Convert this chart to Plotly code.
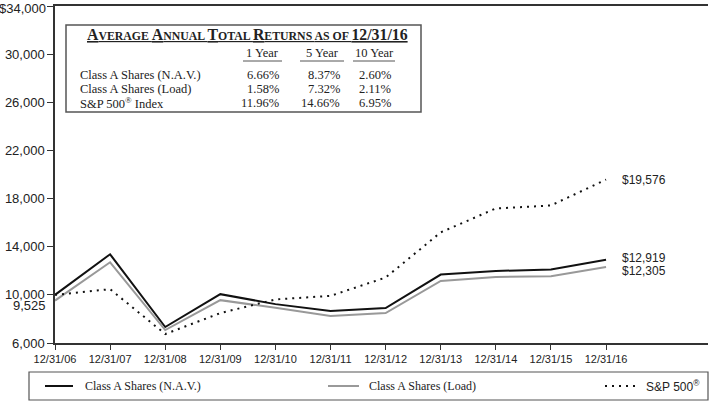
import plotly.graph_objects as go

# ---------------- data ----------------
dates = ["12/31/06", "12/31/07", "12/31/08", "12/31/09", "12/31/10", "12/31/11",
         "12/31/12", "12/31/13", "12/31/14", "12/31/15", "12/31/16"]
nav = [10000, 13371, 7325, 10058, 9230, 8650, 8899, 11688, 11988, 12100, 12919]
load = [9525, 12708, 7077, 9560, 8923, 8236, 8484, 11160, 11491, 11549, 12305]
sp500 = [10000, 10472, 6745, 8484, 9619, 9917, 11440, 15193, 17180, 17428, 19576]

series_names = ["Class A Shares (N.A.V.)", "Class A Shares (Load)", "S&P 500<sup>®</sup>"]
end_labels = ["$12,919", "$12,305", "$19,576"]

ytick_vals = [6000, 10000, 14000, 18000, 22000, 26000, 30000, 34000]
ytick_text = ["6,000", "10,000", "14,000", "18,000", "22,000", "26,000", "30,000", ""]
top_tick_val = 34000
top_tick_text = "$34,000"
extra_tick_val = 9525
extra_tick_text = "9,525"

table_cols = ["1 Year", "5 Year", "10 Year"]
table_rows = ["Class A Shares (N.A.V.)", "Class A Shares (Load)", "S&amp;P 500<sup>®</sup> Index"]
table_vals = [["6.66%", "8.37%", "2.60%"],
              ["1.58%", "7.32%", "2.11%"],
              ["11.96%", "14.66%", "6.95%"]]

# ---------------- layout helpers ----------------
W, H = 710, 401
ML, MR, MT, MB = 55, 2, 6, 58
PW, PH = W - ML - MR, H - MT - MB


def px(x):
    return (x - ML) / PW


def py(y):
    return (H - MB - y) / PH


SANS_N = "Liberation Sans Narrow, Arial Narrow, Liberation Sans, Arial, sans-serif"
SERIF = "Liberation Serif, Times New Roman, serif"
TXT = "#222222"

fig = go.Figure()
styles = [dict(color="#111111", width=2),
          dict(color="#999999", width=2),
          dict(color="#111111", width=2, dash="2px,5px")]
for name, vals, st in zip(series_names, [nav, load, sp500], styles):
    fig.add_trace(go.Scatter(x=dates, y=vals, mode="lines", name=name,
                             line=st, showlegend=False, hoverinfo="skip"))

annotations = []
shapes = []

# end labels
shifts = [2, -4, 0]
for vals, lab, sh in zip([nav, load, sp500], end_labels, shifts):
    annotations.append(dict(x=dates[-1], y=vals[-1], xref="x", yref="y", text=lab,
                            showarrow=False, xanchor="left", yanchor="middle",
                            xshift=14, yshift=sh,
                            font=dict(family=SANS_N, size=12, color=TXT)))

# top y tick label (kept inside the page)
annotations.append(dict(x=0, y=top_tick_val, xref="paper", yref="y", text=top_tick_text,
                        showarrow=False, xanchor="right", yanchor="top", xshift=-7, yshift=7,
                        font=dict(family=SANS_N, size=13, color=TXT)))
# extra y tick label 9,525
annotations.append(dict(x=0, y=extra_tick_val, xref="paper", yref="y", text=extra_tick_text,
                        showarrow=False, xanchor="right", yanchor="middle", xshift=-7, yshift=-5,
                        font=dict(family=SANS_N, size=13, color=TXT)))

# ---------- table box ----------
shapes.append(dict(type="rect", xref="paper", yref="paper",
                   x0=px(66), x1=px(421), y0=py(112), y1=py(25),
                   line=dict(color="#555555", width=1.5), fillcolor="white", layer="above"))

BIG, SMALL = 15.8, 11.8


def sc(word, trail=" "):
    return (f"<span style='font-size:{BIG}px'>{word[0]}</span>"
            f"<span style='font-size:{SMALL}px'>{word[1:]}{trail}</span>")


title_words = ["AVERAGE", "ANNUAL", "TOTAL", "RETURNS"]
title = "".join(sc(w) for w in title_words)
title += f"<span style='font-size:{SMALL}px'>AS OF </span><span style='font-size:{BIG}px'>12/31/16</span>"
annotations.append(dict(x=px(247), y=py(35), xref="paper", yref="paper",
                        text=f"<b><u>{title}</u></b>", showarrow=False,
                        xanchor="center", yanchor="middle",
                        font=dict(family=SERIF, size=BIG, color=TXT)))

col_centers = [262, 322, 374]
col_rights = [281, 342, 393]
underline_spans = [(243, 282), (300, 344), (353, 395)]
for c, cx, (u0, u1) in zip(table_cols, col_centers, underline_spans):
    annotations.append(dict(x=px(cx), y=py(53), xref="paper", yref="paper", text=c,
                            showarrow=False, xanchor="center", yanchor="middle",
                            font=dict(family=SERIF, size=12.5, color=TXT)))
    shapes.append(dict(type="line", xref="paper", yref="paper", x0=px(u0), x1=px(u1),
                       y0=py(61), y1=py(61), line=dict(color="#555555", width=1), layer="above"))

row_ys = [75, 89, 103]
for r, ry, vals in zip(table_rows, row_ys, table_vals):
    annotations.append(dict(x=px(78), y=py(ry), xref="paper", yref="paper", text=r,
                            showarrow=False, xanchor="left", yanchor="middle",
                            font=dict(family=SERIF, size=12.5, color=TXT)))
    for v, rx in zip(vals, col_rights):
        annotations.append(dict(x=px(rx), y=py(ry), xref="paper", yref="paper", text=v,
                                showarrow=False, xanchor="right", yanchor="middle",
                                font=dict(family=SERIF, size=12.5, color=TXT)))

# ---------- legend box (bottom) ----------
shapes.append(dict(type="rect", xref="paper", yref="paper",
                   x0=px(29), x1=px(708), y0=py(400), y1=py(372),
                   line=dict(color="#555555", width=1.2)))
leg_lines = [(45, 73), (328, 359), (605, 637)]
leg_text_x = [83, 367, 644]
leg_fonts = [SERIF, SERIF, "Liberation Sans Narrow, Liberation Sans, Arial, sans-serif"]
leg_sizes = [12, 12, 12]
for (l0, l1), tx, name, st, fnt, fs in zip(leg_lines, leg_text_x, series_names, styles,
                                            leg_fonts, leg_sizes):
    shapes.append(dict(type="line", xref="paper", yref="paper", x0=px(l0), x1=px(l1),
                       y0=py(386), y1=py(386), line=st))
    annotations.append(dict(x=px(tx), y=py(386), xref="paper", yref="paper", text=name,
                            showarrow=False, xanchor="left", yanchor="middle",
                            font=dict(family=fnt, size=fs, color=TXT)))

fig.update_layout(
    width=W, height=H,
    margin=dict(l=ML, r=MR, t=MT, b=MB, autoexpand=False),
    paper_bgcolor="white", plot_bgcolor="white",
    annotations=annotations, shapes=shapes,
    xaxis=dict(type="category", range=[0, 11.85], showgrid=False, zeroline=False,
               showline=True, linecolor="#333333", linewidth=1.5, mirror=True,
               ticks="outside", ticklen=5, tickcolor="#333333", tickwidth=1,
               automargin=False,
               tickfont=dict(family=SANS_N, size=11, color=TXT)),
    yaxis=dict(range=[6000, 34000], showgrid=False, zeroline=False,
               showline=True, linecolor="#333333", linewidth=1.5,
               tickvals=ytick_vals, ticktext=ytick_text, automargin=False,
               ticks="outside", ticklen=6, tickcolor="#333333", tickwidth=1,
               tickfont=dict(family=SANS_N, size=13, color=TXT)),
)

fig.write_html("out.html", post_script="document.body.style.margin='0px';",
               config={"displayModeBar": False})
